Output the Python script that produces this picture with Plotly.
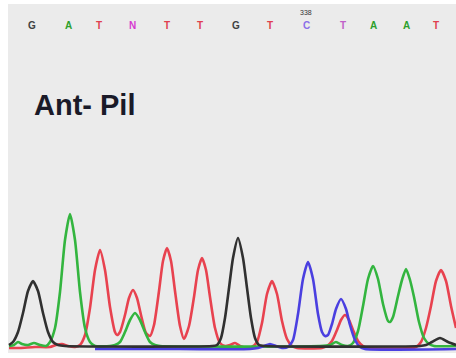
import plotly.graph_objects as go

# Base calls (top sequence) and their scan positions
bases = ["G", "A", "T", "N", "T", "T", "G", "T", "C", "T", "A", "A", "T"]
base_pos = [32, 68, 99, 132, 167, 200, 236, 270, 306, 343, 373, 406, 436]
base_colors = ["#404040", "#2ca02c", "#e0404e", "#d63bd0", "#e0404e", "#e0404e",
               "#404040", "#e0404e", "#8a6ee8", "#c060c8", "#2ca02c", "#2ca02c", "#e0404e"]
pos_label = "338"
pos_label_x = 306

# Trace channels: scan position / signal intensity
g_x = [9, 13, 18, 23, 28, 33, 38, 43, 48, 53, 58, 65,
       212, 217, 221, 225, 229, 233, 238, 243, 247, 251, 255, 259, 265,
       420, 426, 432, 440, 448, 456]
g_y = [1, 4, 14, 33, 55, 65, 55, 33, 14, 4, 1, 0,
       0, 1, 8, 28, 58, 88, 108, 88, 58, 28, 8, 1, 0,
       0, 1, 4, 8, 4, 1]

a_x = [9, 14, 18, 22, 28, 34, 40, 46, 50, 55, 60, 65, 70, 75, 80, 85, 90, 95,
       110, 115, 120, 125, 130, 135, 140, 145, 150, 155, 160,
       320, 330, 336, 342, 348, 353, 358, 363, 368, 373, 378, 383, 388, 390, 393, 398,
       402, 406, 410, 414, 419, 424, 429, 434, 456]
a_y = [0, 1, 4, 2, 1, 3, 1, 0, 4, 18, 54, 106, 132, 106, 54, 18, 4, 0,
       0, 1, 4, 14, 26, 33, 26, 14, 4, 1, 0,
       0, 1, 4, 1, 0, 3, 15, 40, 67, 80, 67, 42, 25, 24, 29, 50,
       66, 77, 66, 49, 24, 8, 2, 0, 0]

t_x = [9, 20, 35, 50, 56, 62, 68, 75, 80, 85, 90, 95, 100, 105, 110, 115, 117, 120, 125,
       129, 133, 137, 141, 146, 150, 154, 159, 163, 167, 171, 175, 180, 184, 189, 194,
       198, 202, 206, 210, 215, 220, 225, 230, 235, 240, 248,
       252, 257, 262, 267, 272, 277, 282, 287, 292, 297,
       322, 327, 332, 337, 341, 345, 349, 353, 358, 363, 368,
       410, 416, 421, 426, 431, 436, 441, 446, 451, 456]
t_y = [0, 0, 1, 1, 3, 4, 2, 1, 3, 13, 40, 78, 98, 78, 41, 16, 13, 16, 33,
       50, 58, 50, 33, 15, 12, 23, 57, 87, 100, 87, 57, 22, 9, 22, 51,
       78, 90, 78, 51, 20, 5, 2, 3, 5, 2, 0,
       1, 6, 25, 54, 67, 54, 27, 9, 2, 0,
       0, 2, 7, 18, 28, 33, 28, 18, 7, 2, 0,
       0, 1, 6, 20, 42, 67, 78, 67, 42, 20]

c_x = [95, 180, 250, 258, 264, 270, 276, 282, 288, 293, 298, 303, 308, 313, 318, 322,
       325, 328, 332, 336, 341, 346, 350, 355, 360, 365, 456]
c_y = [0, 0, 0, 1, 3, 5, 3, 1, 2, 9, 35, 70, 87, 70, 35, 17,
       13, 14, 25, 40, 50, 40, 24, 9, 2, 0, 0]

# (x, y, colour, baseline shift in signal units)
channels = [
    (t_x, t_y, "#e8424f", -3),
    (a_x, a_y, "#33b53f", -1),
    (c_x, c_y, "#4a3fe0", -4),
    (g_x, g_y, "#303030", -1),
]

fig = go.Figure()
for xs, ys, col, off in channels:
    fig.add_trace(go.Scatter(x=xs, y=[v + off for v in ys], mode="lines",
                             line=dict(color=col, width=2.6, shape="spline", smoothing=0.6),
                             hoverinfo="skip", showlegend=False))

for b, x, c in zip(bases, base_pos, base_colors):
    fig.add_annotation(x=x, y=320, text="<b>" + b + "</b>", showarrow=False,
                       font=dict(size=10, color=c, family="Liberation Sans"))
fig.add_annotation(x=pos_label_x, y=333, text=pos_label, showarrow=False,
                   font=dict(size=7, color="#333333", family="Liberation Sans"))
fig.add_annotation(x=85, y=240, text="<b>Ant- Pil</b>", showarrow=False,
                   font=dict(size=29, color="#1a1a28", family="Liberation Sans"))

fig.update_layout(
    width=456, height=358,
    margin=dict(l=8, r=0, t=4, b=5),
    paper_bgcolor="white", plot_bgcolor="#ebebeb",
    xaxis=dict(range=[8, 456], visible=False, fixedrange=True),
    yaxis=dict(range=[-8, 341], visible=False, fixedrange=True),
)
fig.write_html("out.html")
